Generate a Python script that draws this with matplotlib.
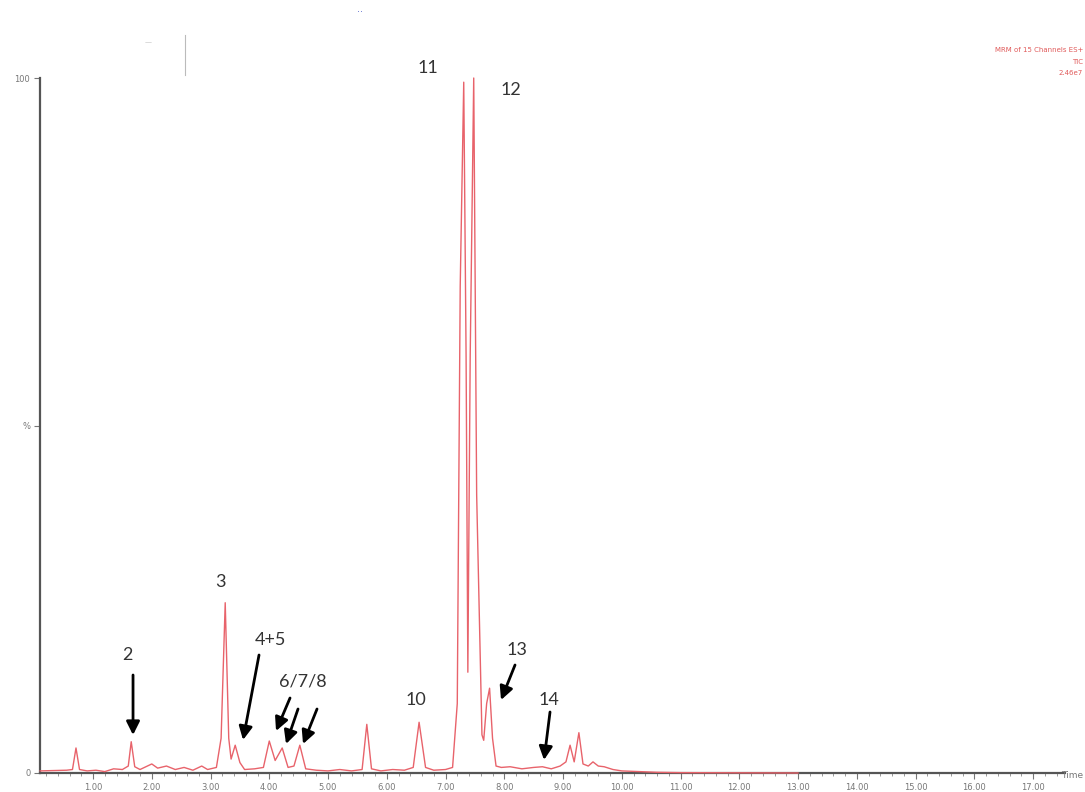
import matplotlib
matplotlib.use("Agg")
import matplotlib.pyplot as plt
import numpy as np

# Chromatogram trace (time in min, relative intensity in %)
time = [0.10, 0.55, 0.65, 0.71, 0.77, 0.90, 1.05, 1.20, 1.35, 1.50, 1.60, 1.65, 1.71,
        1.80, 1.90, 2.00, 2.10, 2.25, 2.40, 2.55, 2.70, 2.85, 2.95, 3.10, 3.18, 3.25,
        3.31, 3.35, 3.42, 3.50, 3.58, 3.75, 3.90, 4.00, 4.10, 4.22, 4.32, 4.42, 4.52,
        4.62, 4.80, 5.00, 5.20, 5.40, 5.58, 5.66, 5.74, 5.90, 6.10, 6.30, 6.45, 6.55,
        6.66, 6.80, 7.00, 7.12, 7.20, 7.25, 7.31, 7.35, 7.38, 7.42, 7.48, 7.53, 7.62,
        7.65, 7.70, 7.75, 7.80, 7.86, 7.95, 8.10, 8.30, 8.50, 8.65, 8.80, 8.95, 9.05,
        9.12, 9.19, 9.27, 9.34, 9.43, 9.51, 9.60, 9.70, 9.85, 10.00, 10.30, 10.60,
        11.00, 13.00]
intensity = [0.3, 0.4, 0.5, 3.6, 0.5, 0.3, 0.4, 0.2, 0.6, 0.5, 1.0, 4.5, 0.9,
             0.5, 0.9, 1.3, 0.7, 1.0, 0.5, 0.8, 0.4, 1.0, 0.5, 0.8, 5.0, 24.5,
             5.0, 2.0, 4.0, 1.5, 0.5, 0.6, 0.8, 4.6, 1.8, 3.6, 0.8, 1.0, 4.0,
             0.6, 0.4, 0.3, 0.5, 0.3, 0.5, 7.0, 0.6, 0.3, 0.5, 0.4, 0.8, 7.3,
             0.8, 0.4, 0.5, 0.8, 10.0, 70.0, 99.4, 60.0, 14.5, 60.0, 100.0, 40.0, 5.5,
             4.7, 10.0, 12.2, 5.0, 1.0, 0.8, 0.9, 0.6, 0.8, 0.9, 0.6, 1.0, 1.6,
             4.0, 1.6, 5.8, 1.3, 1.0, 1.6, 1.0, 0.9, 0.5, 0.3, 0.2, 0.1,
             0.05, 0.0]

x_ticks = [1, 2, 3, 4, 5, 6, 7, 8, 9, 10, 11, 12, 13, 14, 15, 16, 17]

fig = plt.figure(figsize=(10.85, 7.92), dpi=100)
ax = fig.add_axes([0.0369, 0.024, 0.9447, 0.8775])

ax.plot(time, intensity, color="#e8636b", lw=1.0, zorder=3, clip_on=False)

ax.set_xlim(0.098, 17.545)
ax.set_ylim(0, 100)

for s in ["top", "right"]:
    ax.spines[s].set_visible(False)
for s in ["left", "bottom"]:
    ax.spines[s].set_color("#555555")
    ax.spines[s].set_linewidth(1.6)

ax.set_xticks(x_ticks)
ax.set_xticklabels(["%.2f" % v for v in x_ticks])
ax.set_xticks(np.arange(0.2, 17.5, 0.2), minor=True)
ax.set_yticks([0, 50, 100])
ax.set_yticklabels(["0", "%", "100"])
ax.tick_params(axis="both", which="major", labelsize=6, labelcolor="#777777",
               color="#777777", length=4, width=0.8, pad=3)
ax.tick_params(axis="x", which="minor", color="#888888", length=2, width=0.6)

fig.text(1083 / 1085, 1 - 776 / 792, "Time", fontsize=6.5, color="#777777",
         ha="right", va="center")

# Header text of the instrument printout
fig.text(1083 / 1085, 1 - 50 / 792, "MRM of 15 Channels ES+", fontsize=5,
         color="#e05a5a", ha="right", va="center")
fig.text(1083 / 1085, 1 - 62 / 792, "TIC", fontsize=5, color="#e05a5a",
         ha="right", va="center")
fig.text(1083 / 1085, 1 - 73 / 792, "2.46e7", fontsize=5, color="#e05a5a",
         ha="right", va="center")
fig.text(145 / 1085, 1 - 42 / 792, "\u2014", fontsize=5, color="#bbbbbb", va="center")
fig.add_artist(plt.Line2D([185 / 1085, 185 / 1085], [1 - 35 / 792, 1 - 75 / 792],
                          color="#bbbbbb", lw=0.8))
fig.text(360 / 1085, 1 - 12 / 792, "\u00b7\u00b7", fontsize=7, color="#6070d0",
         ha="center", va="center")

# Peak labels and arrows
lab = dict(fontsize=13, color="#333333", family=["Lato", "DejaVu Sans"],
           ha="center", va="center")
arw = dict(arrowstyle="-|>", lw=2, color="black", mutation_scale=20,
           shrinkA=0, shrinkB=0)


def tx(px):
    return 1 + (px - 93) / 58.75


def iy(py):
    return (773 - py) / 6.95


ax.text(tx(127), iy(655), "2", **lab)
ax.annotate("", xy=(tx(133), iy(735)), xytext=(tx(133), iy(675)), arrowprops=arw)
ax.text(tx(220), iy(582), "3", **lab)
ax.text(tx(270), iy(640), "4+5", **lab)
ax.annotate("", xy=(tx(243), iy(740)), xytext=(tx(259), iy(655)), arrowprops=arw)
ax.text(tx(303), iy(682), "6/7/8", **lab)
ax.annotate("", xy=(tx(276), iy(731)), xytext=(tx(290), iy(698)), arrowprops=arw)
ax.annotate("", xy=(tx(286), iy(744)), xytext=(tx(298), iy(709)), arrowprops=arw)
ax.annotate("", xy=(tx(303), iy(744)), xytext=(tx(317), iy(709)), arrowprops=arw)
ax.text(tx(416), iy(700), "10", **lab)
ax.text(tx(428), iy(68), "11", **lab)
ax.text(tx(511), iy(90), "12", **lab)
ax.text(tx(517), iy(650), "13", **lab)
ax.annotate("", xy=(tx(501), iy(700)), xytext=(tx(515), iy(665)), arrowprops=arw)
ax.text(tx(549), iy(700), "14", **lab)
ax.annotate("", xy=(tx(544), iy(760)), xytext=(tx(550), iy(712)), arrowprops=arw)

fig.savefig("out.png", dpi=100)
